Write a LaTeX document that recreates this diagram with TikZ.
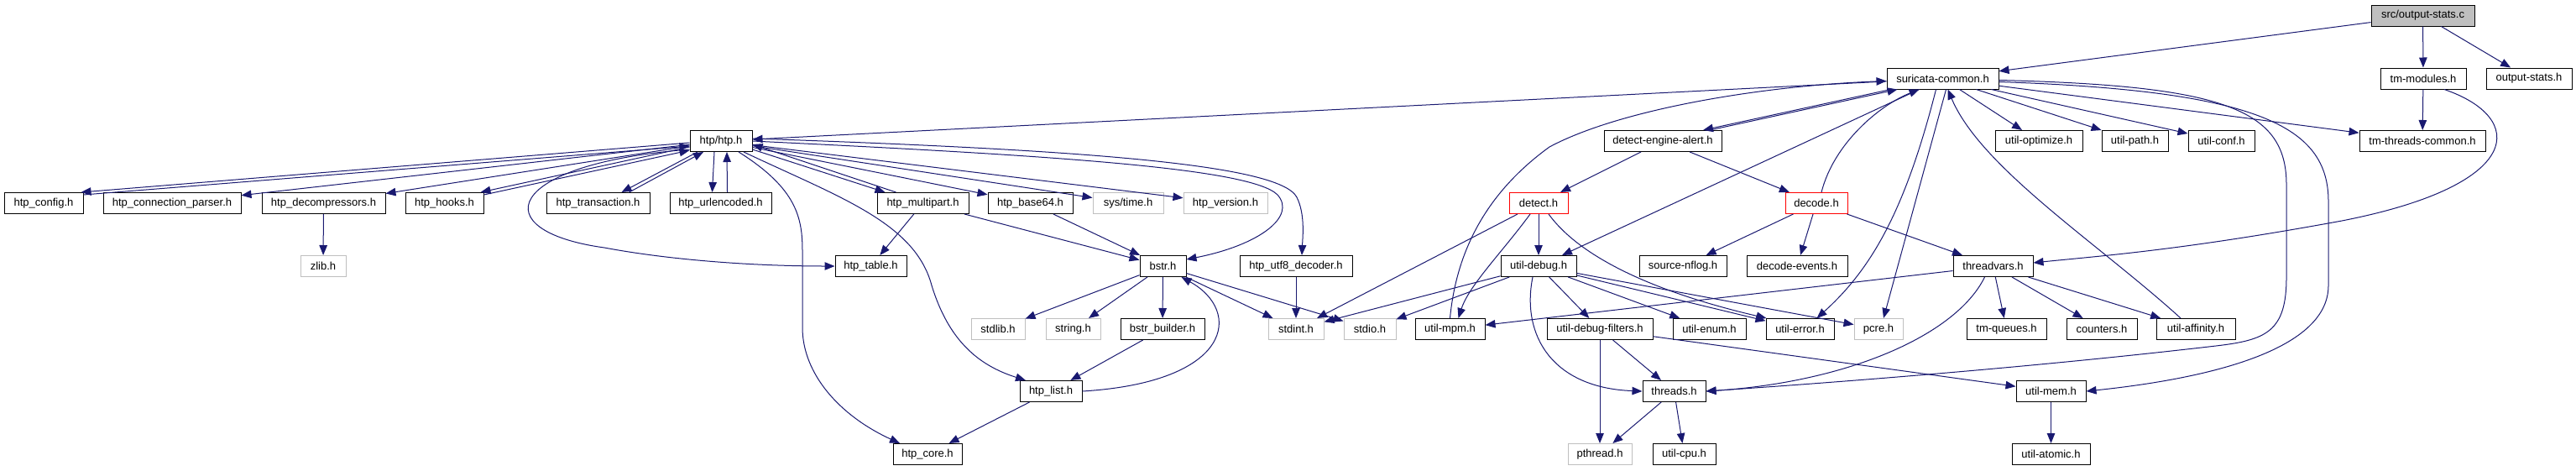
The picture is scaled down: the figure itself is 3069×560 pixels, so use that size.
\documentclass[tikz,border=0pt]{standalone}
\usepackage{fontspec}
\setmainfont{Liberation Sans}
\usetikzlibrary{arrows.meta}
\definecolor{edgeblue}{HTML}{191970}
\definecolor{sysgray}{HTML}{BFBFBF}
\begin{document}
\begin{tikzpicture}[x=1pt,y=-1pt,
  nbox/.style={draw=black,line width=1pt,fill=white,minimum height=25pt,inner sep=0pt,font=\fontsize{13}{15}\selectfont},
  sysbox/.style={nbox,draw=sysgray},
  redbox/.style={nbox,draw=red},
  rootbox/.style={nbox,fill=sysgray},
  conn/.style={draw=edgeblue,line width=1pt,-{Triangle[length=12pt,width=9.5pt]}},
]
\useasboundingbox (0,0) rectangle (3069,560);
% rank 0
\node[rootbox,minimum width=123pt] (outc) at (2886.5,18.5) {src/output-stats.c};
% rank 1
\node[nbox,minimum width=133pt] (sc) at (2314.5,93.5) {suricata-common.h};
\node[nbox,minimum width=102pt] (tmm) at (2887,93.5) {tm-modules.h};
\node[nbox,minimum width=102pt] (osh) at (3013,93.5) {output-stats.h};
% rank 2
\node[nbox,minimum width=74pt] (htp) at (859,168) {htp/htp.h};
\node[nbox,minimum width=140pt] (dea) at (1981,168) {detect-engine-alert.h};
\node[nbox,minimum width=104pt] (uopt) at (2429,168) {util-optimize.h};
\node[nbox,minimum width=79pt] (upath) at (2543.5,168) {util-path.h};
\node[nbox,minimum width=79pt] (uconf) at (2646.5,168) {util-conf.h};
\node[nbox,minimum width=150pt] (tmtc) at (2886,168) {tm-threads-common.h};
% rank 3
\node[nbox,minimum width=94pt] (hcfg) at (52,242) {htp\_config.h};
\node[nbox,minimum width=164pt] (hcp) at (205,242) {htp\_connection\_parser.h};
\node[nbox,minimum width=147pt] (hdec) at (385.5,242) {htp\_decompressors.h};
\node[nbox,minimum width=93pt] (hhooks) at (529.5,242) {htp\_hooks.h};
\node[nbox,minimum width=123pt] (htx) at (712.5,242) {htp\_transaction.h};
\node[nbox,minimum width=121pt] (hurl) at (858.5,242) {htp\_urlencoded.h};
\node[nbox,minimum width=109pt] (hmp) at (1099.5,242) {htp\_multipart.h};
\node[nbox,minimum width=101pt] (hb64) at (1227.5,242) {htp\_base64.h};
\node[sysbox,minimum width=84pt] (systime) at (1344,242) {sys/time.h};
\node[sysbox,minimum width=100pt] (hver) at (1460,242) {htp\_version.h};
\node[redbox,minimum width=70pt] (det) at (1833,242) {detect.h};
\node[redbox,minimum width=74pt] (dec) at (2164,242) {decode.h};
% rank 4
\node[sysbox,minimum width=54pt] (zlib) at (385,317) {zlib.h};
\node[nbox,minimum width=85pt] (htab) at (1037.5,317) {htp\_table.h};
\node[nbox,minimum width=55pt] (bstr) at (1385.5,317) {bstr.h};
\node[nbox,minimum width=134pt] (hutf) at (1544,317) {htp\_utf8\_decoder.h};
\node[nbox,minimum width=90pt] (udbg) at (1833,317) {util-debug.h};
\node[nbox,minimum width=104pt] (nflog) at (2005,317) {source-nflog.h};
\node[nbox,minimum width=120pt] (devt) at (2141,317) {decode-events.h};
\node[nbox,minimum width=95pt] (tv) at (2374.5,317) {threadvars.h};
% rank 5
\node[sysbox,minimum width=64pt] (stdlib) at (1189,392) {stdlib.h};
\node[sysbox,minimum width=65pt] (string) at (1278.5,392) {string.h};
\node[nbox,minimum width=100pt] (bsb) at (1385,392) {bstr\_builder.h};
\node[sysbox,minimum width=66pt] (stdint) at (1544,392) {stdint.h};
\node[sysbox,minimum width=62pt] (stdio) at (1632,392) {stdio.h};
\node[nbox,minimum width=83pt] (umpm) at (1727.5,392) {util-mpm.h};
\node[nbox,minimum width=126pt] (udf) at (1906,392) {util-debug-filters.h};
\node[nbox,minimum width=87pt] (uenum) at (2036.5,392) {util-enum.h};
\node[nbox,minimum width=81pt] (uerr) at (2144.5,392) {util-error.h};
\node[sysbox,minimum width=58pt] (pcre) at (2238,392) {pcre.h};
\node[nbox,minimum width=95pt] (tmq) at (2390.5,392) {tm-queues.h};
\node[nbox,minimum width=84pt] (cnt) at (2504,392) {counters.h};
\node[nbox,minimum width=94pt] (uaff) at (2616,392) {util-affinity.h};
% rank 6
\node[nbox,minimum width=74pt] (hlist) at (1252,466) {htp\_list.h};
\node[nbox,minimum width=75pt] (thr) at (1994.5,466) {threads.h};
\node[nbox,minimum width=83pt] (umem) at (2443.5,466) {util-mem.h};
% rank 7
\node[nbox,minimum width=82pt] (hcore) at (1105,541) {htp\_core.h};
\node[sysbox,minimum width=76pt] (pthr) at (1906,541) {pthread.h};
\node[nbox,minimum width=75pt] (ucpu) at (2006.5,541) {util-cpu.h};
\node[nbox,minimum width=93pt] (uatom) at (2443.5,541) {util-atomic.h};

% ---- straight edges
\draw[conn] (outc) -- (sc);
\draw[conn] (outc) -- (tmm);
\draw[conn] (outc) -- (osh);
\draw[conn] (tmm) -- (tmtc);
\draw[conn] (sc) -- (htp);
\draw[conn] (sc) -- (uopt);
\draw[conn] (sc) -- (upath);
\draw[conn] (sc) -- (uconf);
\draw[conn] (sc) -- (tmtc);
\draw[conn] (sc) -- (udbg);
\draw[conn] ([shift={(4,0)}]sc.south) -- ([shift={(6,0)}]pcre.north);
\draw[conn] (dea) -- (det);
\draw[conn] (dea) -- (dec);
\draw[conn] (det) -- (udbg);
\draw[conn] (det) -- (stdint);
\draw[conn] (udbg) -- (stdint);
\draw[conn] (udbg) -- (stdio);
\draw[conn] (udbg) -- (udf);
\draw[conn] (udbg) -- (uenum);
\draw[conn] (udbg) -- (uerr);
\draw[conn] (udbg) -- (pcre);
\draw[conn] (udf) -- (thr);
\draw[conn] (udf) -- (pthr);
\draw[conn] (udf) -- (umem);
\draw[conn] (thr) -- (pthr);
\draw[conn] (thr) -- (ucpu);
\draw[conn] (dec) -- (nflog);
\draw[conn] (dec) -- (devt);
\draw[conn] (dec) -- (tv);
\draw[conn] (tv) -- (umpm);
\draw[conn] (tv) -- (tmq);
\draw[conn] (tv) -- (cnt);
\draw[conn] (tv) -- (uaff);
\draw[conn] (umem) -- (uatom);
\draw[conn] (hdec) -- (zlib);
\draw[conn] (htp) -- (hcp);
\draw[conn] (htp) -- (hdec);
\draw[conn] (htp) -- (hb64);
\draw[conn] (htp) -- (systime);
\draw[conn] (htp) -- (hver);
\draw[conn] (hmp) -- (htab);
\draw[conn] (hmp) -- (bstr);
\draw[conn] (hb64) -- (bstr);
\draw[conn] (hutf) -- (stdint);
\draw[conn] (bstr) -- (stdlib);
\draw[conn] (bstr) -- (string);
\draw[conn] (bstr) -- (bsb);
\draw[conn] (bstr) -- (stdint);
\draw[conn] (bstr) -- (stdio);
\draw[conn] (bsb) -- (hlist);
\draw[conn] (hlist) -- (hcore);

% ---- two-way pairs
\draw[conn] ([shift={(-62,0)}]sc.south) -- ([shift={(48,0)}]dea.north);
\draw[conn] ([shift={(56,0)}]dea.north) -- ([shift={(-54,0)}]sc.south);
\draw[conn] ([shift={(0,2)}]htp.west) -- ([shift={(-3,0)}]hcfg.north east);
\draw[conn] ([shift={(0,3)}]hcfg.north east) -- ([shift={(0,6)}]htp.west);
\draw[conn] ([shift={(0,7)}]htp.west) -- ([shift={(-4,0)}]hhooks.north east);
\draw[conn] ([shift={(0,3)}]hhooks.north east) -- ([shift={(0,11)}]htp.west);
\draw[conn] ([shift={(-28,0)}]htp.south) -- ([shift={(28,0)}]htx.north);
\draw[conn] ([shift={(37,0)}]htx.north) -- ([shift={(-21,0)}]htp.south);
\draw[conn] ([shift={(-8,0)}]htp.south) -- ([shift={(-10,0)}]hurl.north);
\draw[conn] ([shift={(8,0)}]hurl.north) -- ([shift={(7,0)}]htp.south);
\draw[conn] ([shift={(0,10)}]htp.east) -- ([shift={(-45,0)}]hmp.north);
\draw[conn] ([shift={(-32,0)}]hmp.north) -- ([shift={(0,4)}]htp.east);

% ---- curved edges
\draw[conn] (umpm.north) .. controls (1735,300) and (1770,230) .. (1846,175)
  .. controls (1930,130) and (2100,102) .. ([shift={(0,3)}]sc.west);
\draw[conn] ([shift={(0,2)}]sc.east) .. controls (2650,102) and (2724,130) .. (2724,220)
  -- (2724,330) .. controls (2724,395) and (2700,405) .. (2640,412)
  .. controls (2400,440) and (2150,458) .. (thr.east);
\draw[conn] ([shift={(0,4)}]sc.east) .. controls (2690,108) and (2774,150) .. (2774,240)
  -- (2774,340) .. controls (2774,420) and (2620,452) .. (umem.east);
\draw[conn] ([shift={(-8,0)}]sc.south) .. controls (2270,250) and (2230,320) .. ([shift={(20,0)}]uerr.north);
\draw[conn] ([shift={(-18,0)}]uaff.north) .. controls (2500,290) and (2360,200) .. ([shift={(6,0)}]sc.south);
\draw[conn] ([shift={(6,0)}]dec.north) .. controls (2185,170) and (2240,125) .. ([shift={(-28,0)}]sc.south);
\draw[conn] ([shift={(-10,0)}]det.south) .. controls (1790,300) and (1750,340) .. ([shift={(10,0)}]umpm.north);
\draw[conn] ([shift={(12,0)}]det.south) .. controls (1885,310) and (1980,350) .. ([shift={(-40,0)}]uerr.north);
\draw[conn] ([shift={(-7,0)}]udbg.south) .. controls (1812,400) and (1850,462) .. (thr.west);
\draw[conn] ([shift={(-10,0)}]tv.south) .. controls (2330,400) and (2200,455) .. (thr.east);
\draw[conn] ([shift={(25,0)}]tmm.south) .. controls (3010,140) and (3010,220) .. (2790,263)
  .. controls (2600,298) and (2500,305) .. ([shift={(0,-4)}]tv.east);
\draw[conn] ([shift={(0,10)}]htp.west) .. controls (600,195) and (575,275) .. (720,295)
  .. controls (800,310) and (900,317) .. (htab.west);
\draw[conn] ([shift={(21,0)}]htp.south) .. controls (950,225) and (956,260) .. (956,300)
  -- (956,390) .. controls (956,445) and (1000,495) .. ([shift={(-33,0)}]hcore.north);
\draw[conn] ([shift={(27,0)}]htp.south) .. controls (1000,235) and (1090,265) .. (1110,340)
  .. controls (1130,405) and (1165,435) .. ([shift={(-30,0)}]hlist.north);
\draw[conn] (htp.east) .. controls (1250,185) and (1490,200) .. (1522,232)
  .. controls (1545,258) and (1500,292) .. ([shift={(0,-8)}]bstr.east);
\draw[conn] ([shift={(0,-3)}]htp.east) .. controls (1280,178) and (1525,195) .. (1545,235)
  .. controls (1555,255) and (1552,282) .. ([shift={(7,0)}]hutf.north);
\draw[conn] (hlist.east) .. controls (1470,455) and (1480,370) .. ([shift={(22,0)}]bstr.south);
\end{tikzpicture}
\end{document}
